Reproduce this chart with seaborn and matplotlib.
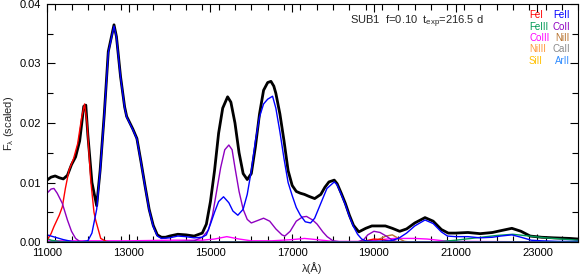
import numpy as np
import pandas as pd
import matplotlib
matplotlib.use("Agg")
import matplotlib.pyplot as plt
from matplotlib.ticker import MultipleLocator, FixedLocator
import seaborn as sns

# ---------------- data ----------------
total_wl = [11000, 11100, 11200, 11300, 11400, 11500, 11600, 11700, 11800, 11900, 11950,
            12000, 12100, 12216, 12300, 12400, 12500, 12640, 12700, 12800, 12900, 12950,
            13000, 13100, 13200, 13300, 13400, 13500, 13600, 13700, 13800, 13900, 14000,
            14200, 14400, 14600, 14800, 14900, 15000, 15100, 15200, 15300, 15420, 15500,
            15600, 15700, 15800, 15900, 16000, 16100, 16200, 16300, 16400, 16480, 16550,
            16600, 16700, 16800, 16900, 17000, 17100, 17200, 17300, 17400, 17550, 17700,
            17800, 17900, 18030, 18100, 18200, 18300, 18400, 18500, 18630, 18800, 18950,
            19100, 19280, 19450, 19630, 19800, 20000, 20250, 20450, 20650, 20817, 21000,
            21300, 21600, 21900, 22100, 22375, 22600, 22824, 23100, 23400, 23800, 24000]
total_f = [0.0104, 0.0109, 0.0111, 0.0108, 0.0106, 0.0112, 0.0130, 0.0143, 0.0170, 0.0228, 0.0230,
           0.0180, 0.0100, 0.0061, 0.0120, 0.0213, 0.0320, 0.0365, 0.0345, 0.0278, 0.0227, 0.0211,
           0.0204, 0.0190, 0.0174, 0.0135, 0.0094, 0.0055, 0.0028, 0.0012, 0.0008, 0.0008, 0.0010,
           0.0013, 0.0012, 0.0010, 0.0015, 0.0030, 0.0068, 0.0120, 0.0183, 0.0225, 0.0244, 0.0235,
           0.0200, 0.0150, 0.0115, 0.0105, 0.0115, 0.0160, 0.0215, 0.0255, 0.0268, 0.0270, 0.0262,
           0.0250, 0.0215, 0.0170, 0.0120, 0.0095, 0.0085, 0.0082, 0.0080, 0.0077, 0.0073, 0.0080,
           0.0092, 0.0101, 0.0104, 0.0098, 0.0082, 0.0065, 0.0045, 0.0028, 0.0017, 0.0023, 0.0027,
           0.0027, 0.0027, 0.0023, 0.0018, 0.0022, 0.0032, 0.0041, 0.0035, 0.0021, 0.0015, 0.0015,
           0.0016, 0.0014, 0.0016, 0.0019, 0.0023, 0.0018, 0.0010, 0.0008, 0.0007, 0.0006, 0.0005]

feii_wl = [11000, 11200, 11400, 11600, 11800, 12000, 12100, 12216, 12300, 12400, 12500, 12640,
           12700, 12800, 12900, 12950, 13000, 13100, 13200, 13300, 13400, 13500, 13600, 13700,
           13800, 14000, 14200, 14400, 14600, 14800, 14900, 15000, 15100, 15200, 15320, 15450,
           15550, 15670, 15800, 15900, 16000, 16100, 16200, 16300, 16400, 16520, 16600, 16700,
           16800, 16900, 17000, 17100, 17200, 17320, 17450, 17550, 17700, 17850, 18030, 18100,
           18200, 18300, 18400, 18500, 18600, 18700, 18800, 19000, 19400, 19600, 19800, 20000,
           20250, 20450, 20650, 20800, 21000, 21300, 21600, 21900, 22100, 22375, 22600, 22850,
           23100, 23500, 24000]
feii_f = [0.0012, 0.0008, 0.0004, 0.0001, 0.0000, 0.0002, 0.0015, 0.0055, 0.0118, 0.0211, 0.0318, 0.0363,
          0.0344, 0.0277, 0.0226, 0.0210, 0.0203, 0.0189, 0.0173, 0.0134, 0.0093, 0.0054, 0.0026, 0.0010,
          0.0006, 0.0007, 0.0010, 0.0009, 0.0007, 0.0008, 0.0012, 0.0030, 0.0050, 0.0068, 0.0076, 0.0066,
          0.0052, 0.0045, 0.0055, 0.0080, 0.0120, 0.0170, 0.0210, 0.0232, 0.0240, 0.0245, 0.0225, 0.0185,
          0.0140, 0.0100, 0.0078, 0.0058, 0.0045, 0.0034, 0.0032, 0.0040, 0.0065, 0.0090, 0.0101, 0.0096,
          0.0080, 0.0063, 0.0043, 0.0026, 0.0013, 0.0005, 0.0002, 0.0001, 0.0002, 0.0006, 0.0015, 0.0027,
          0.0037, 0.0031, 0.0017, 0.0010, 0.0009, 0.0009, 0.0007, 0.0008, 0.0010, 0.0012, 0.0008, 0.0003,
          0.0002, 0.0001, 0.0001]

fei_wl = [11000, 11100, 11171, 11300, 11375, 11450, 11540, 11650, 11750, 11850, 11920, 11980,
          12070, 12150, 12190, 12315, 12450, 12600, 18600, 18800, 19000, 19200, 19400, 19600, 24000]
fei_f = [0.0003, 0.0014, 0.0026, 0.0045, 0.0059, 0.0090, 0.0121, 0.0140, 0.0165, 0.0210, 0.0232, 0.0200,
         0.0104, 0.0050, 0.0037, 0.0006, 0.0001, 0.0000, 0.0000, 0.0002, 0.0005, 0.0004, 0.0001, 0.0000, 0.0000]

coii_wl = [11000, 11100, 11170, 11250, 11375, 11500, 11600, 11700, 11800, 12000, 14000, 14600,
           14800, 14950, 15050, 15150, 15250, 15350, 15450, 15530, 15600, 15700, 15800, 15900,
           16000, 16150, 16300, 16450, 16600, 16750, 16820, 16950, 17100, 17250, 17350, 17500,
           17610, 17750, 17855, 18000, 18200, 18600, 18750, 18850, 19000, 19150, 19300, 19450,
           19600, 24000]
coii_f = [0.0082, 0.0089, 0.0090, 0.0082, 0.0065, 0.0037, 0.0018, 0.0006, 0.0001, 0.0000, 0.0000, 0.0002,
          0.0008, 0.0020, 0.0045, 0.0085, 0.0125, 0.0155, 0.0163, 0.0155, 0.0125, 0.0085, 0.0055, 0.0038,
          0.0032, 0.0036, 0.0040, 0.0035, 0.0022, 0.0012, 0.0010, 0.0018, 0.0035, 0.0042, 0.0043, 0.0037,
          0.0030, 0.0017, 0.0009, 0.0002, 0.0000, 0.0000, 0.0004, 0.0012, 0.0018, 0.0016, 0.0010, 0.0003,
          0.0000, 0.0000]

coiii_wl = [11000, 12000, 13000, 14000, 14800, 15100, 15400, 15700, 16000, 16500, 17000, 17300,
            17600, 18000, 18600, 19000, 19500, 20000, 20300, 20700, 21000, 24000]
coiii_f = [0.0002, 0.0002, 0.0002, 0.0003, 0.0003, 0.0005, 0.0009, 0.0005, 0.0002, 0.0002, 0.0004, 0.0006,
           0.0004, 0.0001, 0.0001, 0.0003, 0.0006, 0.0006, 0.0005, 0.0002, 0.0001, 0.0000]

feiii_wl = [11000, 11100, 11300, 11500, 20500, 21000, 21500, 22000, 22400, 22800, 23200, 23600, 24000]
feiii_f = [0.0006, 0.0003, 0.0001, 0.0000, 0.0000, 0.0003, 0.0007, 0.0011, 0.0013, 0.0010, 0.0007, 0.0005, 0.0003]

nii_wl = [11000, 18900, 19100, 19300, 19450, 19600, 19750, 19900, 24000]
nii_f = [0.0, 0.0, 0.0004, 0.0010, 0.0012, 0.0006, 0.0001, 0.0, 0.0]

flat_wl = [11000, 24000]
niiii_f = [0.0, 0.0]
caii_f = [0.0, 0.0]
siii_f = [0.0, 0.0]
arii_f = [0.0, 0.0]

ions = ["FeI", "FeII", "FeIII", "CoII", "CoIII", "NiII", "NiIII", "CaII", "SiII", "ArII"]
colors = {"FeI": "#ff0000", "FeII": "#0000ff", "FeIII": "#009955", "CoII": "#8e00c0",
          "CoIII": "#ff00ff", "NiII": "#b8732e", "NiIII": "#ff9a3c", "CaII": "#8a8a8a",
          "SiII": "#ffc000", "ArII": "#2f8cff"}

annotation = r"SUB1  f=0.10  t$_{\mathbf{exp}}$=216.5 d"
xlabel = "λ(Å)"
ylabel = r"F$_\lambda$ (scaled)"

# ---------------- plot ----------------
sns.set_theme(style="ticks")
plt.rcParams["font.family"] = ["Liberation Sans", "DejaVu Sans"]
plt.rcParams["mathtext.fontset"] = "custom"
plt.rcParams["mathtext.rm"] = "Liberation Sans"
plt.rcParams["mathtext.it"] = "Liberation Sans"
plt.rcParams["mathtext.bf"] = "Liberation Sans"

fig = plt.figure(figsize=(5.8, 2.79), dpi=100)
ax = fig.add_axes([0.081, 0.1326, 0.916, 0.8531])

def draw(wl, f, color, lw):
    d = pd.DataFrame({"wl": wl, "f": f})
    sns.lineplot(data=d, x="wl", y="f", ax=ax, color=color, lw=lw, sort=False, estimator=None)

draw(total_wl, total_f, "black", 2.0)
draw(flat_wl, niiii_f, colors["NiIII"], 1.0)
draw(flat_wl, caii_f, colors["CaII"], 1.0)
draw(flat_wl, siii_f, colors["SiII"], 1.0)
draw(nii_wl, nii_f, colors["NiII"], 1.0)
draw(coiii_wl, coiii_f, colors["CoIII"], 1.0)
draw(feiii_wl, feiii_f, colors["FeIII"], 1.0)
draw(fei_wl, fei_f, colors["FeI"], 1.0)
draw(coii_wl, coii_f, colors["CoII"], 1.0)
draw(feii_wl, feii_f, colors["FeII"], 1.0)
draw(flat_wl, arii_f, "#1d5a80", 1.2)

ax.set_xlim(11000, 24000)
ax.set_ylim(0, 0.04)
ax.xaxis.set_major_locator(FixedLocator([11000, 13000, 15000, 17000, 19000, 21000, 23000]))
ax.xaxis.set_minor_locator(MultipleLocator(400))
ax.yaxis.set_major_locator(MultipleLocator(0.01))
ax.yaxis.set_minor_locator(MultipleLocator(0.005))
ax.yaxis.set_major_formatter(matplotlib.ticker.FormatStrFormatter("%.2f"))
ax.tick_params(which="both", direction="in", top=True, right=True, colors="black",
               labelsize=8, width=0.8)
ax.tick_params(which="major", length=6, pad=4)
ax.tick_params(which="minor", length=4)
for s in ax.spines.values():
    s.set_linewidth(0.8)
    s.set_color("black")

ax.set_xlabel(xlabel, fontsize=8)
ax.set_ylabel(ylabel, fontsize=8)
ax.xaxis.set_label_coords(0.5, -0.085)
ax.yaxis.set_label_coords(-0.058, 0.5)

ax.text(0.571, 0.925, annotation, transform=ax.transAxes, fontsize=8, ha="left", va="center")

rows = [("FeI", "FeII"), ("FeIII", "CoII"), ("CoIII", "NiII"), ("NiIII", "CaII"), ("SiII", "ArII")]
row_y = [15, 27, 38, 49, 61]
for (a, b), yp in zip(rows, row_y):
    fy = 1 - yp / 279
    fig.text(529 / 580, fy, a, color=colors[a], fontsize=7, ha="left", va="center")
    fig.text(570 / 580, fy, b, color=colors[b], fontsize=7, ha="right", va="center")

fig.savefig("out.png", dpi=100)
